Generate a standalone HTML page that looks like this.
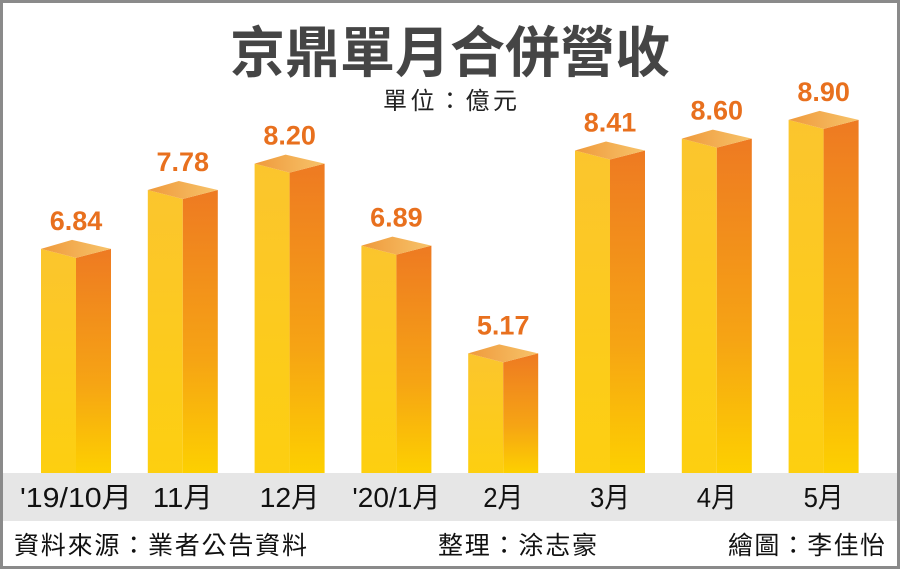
<!DOCTYPE html>
<html><head><meta charset="utf-8"><style>
body{margin:0;width:900px;height:569px;overflow:hidden;background:#fff;font-family:"Liberation Sans","Noto Sans CJK TC",sans-serif}
</style></head><body>
<svg width="900" height="569" xmlns="http://www.w3.org/2000/svg">
<defs>
<linearGradient id="gl" x1="0" y1="0" x2="0" y2="1"><stop offset="0" stop-color="#fbc52e"/><stop offset="1" stop-color="#fdcf10"/></linearGradient>
<linearGradient id="gr" x1="0" y1="0" x2="0" y2="1"><stop offset="0" stop-color="#ee7a22"/><stop offset="0.6" stop-color="#f6a414"/><stop offset="1" stop-color="#fdd000"/></linearGradient>
<linearGradient id="gt" x1="0" y1="0" x2="1" y2="0"><stop offset="0" stop-color="#ef9a3c"/><stop offset="1" stop-color="#f7c36a"/></linearGradient>
</defs>
<rect x="1.5" y="1.5" width="897" height="566" fill="#fff" stroke="#8a8a8a" stroke-width="3"/>
<rect x="3" y="473" width="894" height="48" fill="#e6e6e6"/>
<text x="450" y="72" text-anchor="middle" font-size="55" font-weight="bold" fill="#454545" textLength="440">京鼎單月合併營收</text>
<text x="450" y="109" text-anchor="middle" font-size="24" fill="#222" textLength="134">單位：億元</text>
<g id="bars"></g>
<text x="14" y="554" font-size="25" fill="#111" textLength="293">資料來源：業者公告資料</text>
<text x="438" y="554" font-size="25" fill="#111" textLength="159">整理：涂志豪</text>
<text x="728" y="554" font-size="25" fill="#111" textLength="157">繪圖：李佳怡</text>
</svg>
<script>
const categories=["'19/10月","11月","12月","'20/1月","2月","3月","4月","5月"];
const values=[6.84,7.78,8.20,6.89,5.17,8.41,8.60,8.90];
const valueLabels=["6.84","7.78","8.20","6.89","5.17","8.41","8.60","8.90"];
const ns="http://www.w3.org/2000/svg";
const g=document.getElementById('bars');
function xC(i){return 76+i*106.8;}
function yV(v){return 686-v*62.6;}
const base=473,hw=35;
function mk(tag,attrs){const e=document.createElementNS(ns,tag);for(const k in attrs)e.setAttribute(k,attrs[k]);g.appendChild(e);return e;}
values.forEach((v,i)=>{
 const c=xC(i),y=yV(v);
 let e=mk('polygon',{points:`${c-hw},${y-9} ${c},${y} ${c},${base} ${c-hw},${base}`,fill:'url(#gl)'});
 
 
 e=mk('polygon',{points:`${c},${y} ${c+hw},${y-9} ${c+hw},${base} ${c},${base}`,fill:'url(#gr)'});
 
 
 e=mk('polygon',{points:`${c-hw},${y-9} ${c-4},${y-18} ${c+hw},${y-9} ${c},${y}`,fill:'url(#gt)'});
 
 
 e=mk('text',{x:c,y:y-28,'text-anchor':'middle','font-size':'27','font-weight':'bold',fill:'#e8701e'});
 e.textContent=valueLabels[i];
 
 
 const len=categories[i].length;
 const tl={7:112,6:88,3:60,2:40}[len]||60;
 e=mk('text',{x:c,y:507,'text-anchor':'middle','font-size':'28',fill:'#111',textLength:String(tl),lengthAdjust:'spacingAndGlyphs'});
 e.textContent=categories[i];
 
 
});
</script>
</body></html>
